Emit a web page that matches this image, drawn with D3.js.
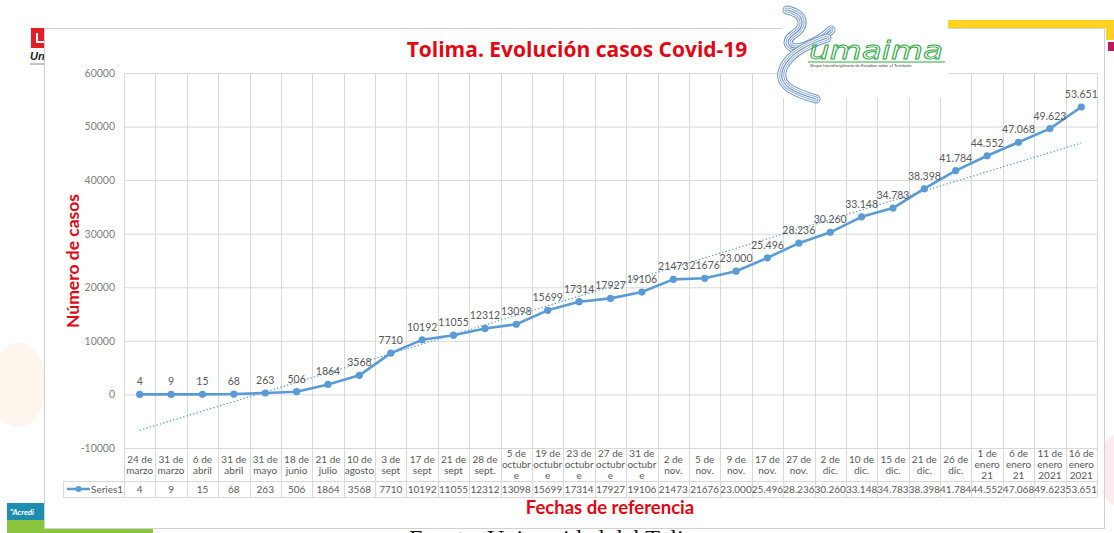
<!DOCTYPE html>
<html><head><meta charset="utf-8">
<script src="https://cdn.jsdelivr.net/npm/d3@7"></script>
<style>body{margin:0;background:#fff;overflow:hidden} svg{display:block}</style>
</head><body><svg id="c" width="1114" height="533"></svg>
<script>
const categories = ["24 de\nmarzo","31 de\nmarzo","6 de\nabril","31 de\nabril","31 de\nmayo","18 de\njunio","21 de\njulio","10 de\nagosto","3 de\nsept","17 de\nsept","21 de\nsept","28 de\nsept.","5 de\noctubr\ne","19 de\noctubr\ne","23 de\noctubr\ne","27 de\noctubr\ne","31 de\noctubr\ne","2 de\nnov.","5 de\nnov.","9 de\nnov.","17 de\nnov.","27 de\nnov.","2 de\ndic.","10 de\ndic.","15 de\ndic.","21 de\ndic.","26 de\ndic.","1 de\nenero\n21","6 de\nenero\n21","11 de\nenero\n2021","16 de\nenero\n2021"];
const cases = [4,9,15,68,263,506,1864,3568,7710,10192,11055,12312,13098,15699,17314,17927,19106,21473,21676,23000,25496,28236,30260,33148,34783,38398,41784,44552,47068,49623,53651];
const caseLabels = ["4","9","15","68","263","506","1864","3568","7710","10192","11055","12312","13098","15699","17314","17927","19106","21473","21676","23.000","25.496","28.236","30.260","33.148","34.783","38.398","41.784","44.552","47.068","49.623","53.651"];
const yTicks = [-10000,0,10000,20000,30000,40000,50000,60000];
const seriesName = "Series1";
const chartTitle = "Tolima. Evolución casos Covid-19";
const yTitle = "Número de casos";
const xTitle = "Fechas de referencia";
const sourceText = "Fuente: Universidad del Tolima";

const svg = d3.select("#c");
const FONT = "Lato, 'Open Sans', sans-serif";
const BLUE = "#5b9bd5", RED = "#e30613", GRID = "#d9d9d9", TXT = "#595959";

// ---- background decorations (slide) ----
const bg = svg.append("g");
bg.append("text").attr("x",561).attr("y",546).attr("text-anchor","middle")
  .attr("font-family","'Liberation Serif', serif").attr("font-size",24).attr("fill","#111").text(sourceText);
bg.append("rect").attr("x",7).attr("y",503).attr("width",40).attr("height",17).attr("fill","#1d8db0");
bg.append("rect").attr("x",7).attr("y",520).attr("width",146).attr("height",13).attr("fill","#8cc63e");
bg.append("text").attr("x",10).attr("y",515).attr("font-family",FONT).attr("font-size",8).attr("font-style","italic").attr("font-weight","bold").attr("fill","#fff").text("\"Acredi");
bg.append("ellipse").attr("cx",18).attr("cy",385).attr("rx",28).attr("ry",42).attr("fill","#fef5ec");
bg.append("ellipse").attr("cx",1114).attr("cy",470).attr("rx",14).attr("ry",35).attr("fill","#fcebee");
// U logo
bg.append("rect").attr("x",31).attr("y",28).attr("width",13).attr("height",20).attr("fill","#e41e26");
bg.append("path").attr("d","M37,33 V42 H44").attr("stroke","#fff").attr("stroke-width",2).attr("fill","none");
bg.append("text").attr("x",30).attr("y",60).attr("font-family","'Liberation Sans', sans-serif").attr("font-size",11).attr("font-style","italic").attr("font-weight","bold").attr("fill","#222").text("Un");
bg.append("line").attr("x1",30).attr("x2",45).attr("y1",64).attr("y2",64).attr("stroke","#888");

// ---- panel ----
svg.append("rect").attr("x",44.5).attr("y",28.5).attr("width",1060).attr("height",500)
  .attr("fill","#fff").attr("stroke","#d0d0d0");

// ---- scales ----
const plotL = 124, plotR = 1097, plotT = 73, plotB = 448;
const x = d3.scaleBand().domain(d3.range(categories.length)).range([plotL, plotR]);
const y = d3.scaleLinear().domain([-10000, 60000]).range([plotB, plotT]);
const cx = i => x(i) + x.bandwidth()/2;
const rowMid = 481, rowBot = 497, legL = 63;

const g = svg.append("g");
// horizontal gridlines
g.append("g").attr("transform",`translate(${plotL},0)`)
  .call(d3.axisLeft(y).tickValues(yTicks).tickSize(-(plotR-plotL)).tickFormat(""))
  .call(s=>s.select(".domain").remove())
  .call(s=>s.selectAll("line").attr("stroke",GRID).attr("stroke-width",1));
// y labels
g.append("g").attr("transform",`translate(${plotL},0)`)
  .call(d3.axisLeft(y).tickValues(yTicks).tickSize(0).tickPadding(9).tickFormat(d=>String(d)))
  .call(s=>s.select(".domain").remove())
  .call(s=>s.selectAll("text").attr("fill","#7f7f7f").attr("font-family",FONT).attr("font-size",10.5));
// vertical gridlines (category boundaries) extended through the data table
const bounds = d3.range(categories.length+1).map(i => i < categories.length ? x(i) : x(i-1)+x.bandwidth());
g.selectAll("line.v").data(bounds).join("line").attr("class","v")
  .attr("x1",d=>Math.round(d)+0.5).attr("x2",d=>Math.round(d)+0.5).attr("y1",plotT).attr("y2",rowBot)
  .attr("stroke",GRID);
// table lines
[rowMid, rowBot].forEach(yy => g.append("line").attr("x1",legL).attr("x2",plotR).attr("y1",yy+0.5).attr("y2",yy+0.5).attr("stroke",GRID));
g.append("line").attr("x1",legL+0.5).attr("x2",legL+0.5).attr("y1",rowMid).attr("y2",rowBot).attr("stroke",GRID);

// category labels
const lh = 11;
g.selectAll("text.cat").data(categories).join("text").attr("class","cat")
  .attr("font-family",FONT).attr("font-size",10).attr("fill",TXT).attr("text-anchor","middle")
  .each(function(d,i){
    const lines = d.split("\n");
    const y0 = 464.5 - (lines.length-1)*lh/2 + 3.5;
    d3.select(this).selectAll("tspan").data(lines).join("tspan")
      .attr("x",cx(i)).attr("y",(l,k)=>y0+k*lh).text(l=>l);
  });
// values row
g.selectAll("text.val").data(caseLabels).join("text").attr("class","val")
  .attr("x",(d,i)=>cx(i)).attr("y",492.5).attr("text-anchor","middle")
  .attr("font-family",FONT).attr("font-size",10).attr("fill",TXT).text(d=>d);
// legend in table
g.append("line").attr("x1",67).attr("x2",90).attr("y1",489).attr("y2",489).attr("stroke",BLUE).attr("stroke-width",2.5);
g.append("circle").attr("cx",78.5).attr("cy",489).attr("r",3).attr("fill",BLUE);
g.append("text").attr("x",91).attr("y",492.5).attr("font-family",FONT).attr("font-size",10).attr("fill",TXT).text(seriesName);

// linear trend line (least squares on the series)
const n = cases.length, xs = d3.range(n);
const mx = d3.mean(xs), my = d3.mean(cases);
const slope = d3.sum(xs, i => (i-mx)*(cases[i]-my)) / d3.sum(xs, i => (i-mx)**2);
const icpt = my - slope*mx;
g.append("line").attr("x1",cx(0)).attr("x2",cx(n-1)).attr("y1",y(icpt)).attr("y2",y(icpt+slope*(n-1)))
  .attr("stroke",BLUE).attr("stroke-width",1.3).attr("stroke-dasharray","1.3,2.2");

// series line
g.append("path").datum(cases)
  .attr("d", d3.line().x((d,i)=>cx(i)).y(d=>y(d)))
  .attr("fill","none").attr("stroke",BLUE).attr("stroke-width",2.6).attr("stroke-linejoin","round");
g.selectAll("circle.pt").data(cases).join("circle").attr("class","pt")
  .attr("cx",(d,i)=>cx(i)).attr("cy",d=>y(d)).attr("r",3.6).attr("fill",BLUE);
// data labels
g.selectAll("text.lbl").data(cases).join("text").attr("class","lbl")
  .attr("x",(d,i)=>cx(i)).attr("y",d=>y(d)-9).attr("text-anchor","middle")
  .attr("font-family",FONT).attr("font-size",10.5).attr("fill",TXT).text((d,i)=>caseLabels[i]);

// titles
svg.append("text").attr("x",577).attr("y",57).attr("text-anchor","middle")
  .attr("font-family","'Open Sans', Lato, sans-serif").attr("font-weight","bold").attr("font-size",21).attr("fill",RED).text(chartTitle);
svg.append("text").attr("transform","translate(79,261) rotate(-90)").attr("text-anchor","middle")
  .attr("font-family",FONT).attr("font-weight","bold").attr("font-size",17.5).attr("fill",RED).text(yTitle);
svg.append("text").attr("x",610).attr("y",514).attr("text-anchor","middle")
  .attr("font-family",FONT).attr("font-weight","bold").attr("font-size",18.5).attr("fill",RED).text(xTitle);

// ---- umaima logo ----
const logo = svg.append("g");
logo.append("rect").attr("x",782).attr("y",0).attr("width",166).attr("height",98).attr("fill","#fff");
const wave = ["M787,10 C806,14 806,27 793,35 C783,42 789,52 805,46 C816,42 825,36 831,30",
              "M827,38 C806,45 786,55 782,72 C779,86 795,93 816,99"];
wave.forEach(p => {
  [[9,"#6f94c8"],[7,"#fff"],[5,"#8aaad6"],[3,"#fff"],[1.2,"#6f94c8"]].forEach(([w,c]) =>
    logo.append("path").attr("d",p).attr("fill","none").attr("stroke",c).attr("stroke-width",w).attr("stroke-linecap","round"));
});
logo.append("text").attr("x",809).attr("y",59).attr("font-family","'DejaVu Sans', sans-serif").attr("font-style","italic")
  .attr("font-size",24).attr("fill","none").attr("stroke","#2fa844").attr("stroke-width",0.9)
  .attr("textLength",134).attr("lengthAdjust","spacingAndGlyphs").text("umaima");
logo.append("line").attr("x1",808).attr("x2",945).attr("y1",62).attr("y2",62).attr("stroke","#2fa844").attr("stroke-width",1);
logo.append("text").attr("x",810).attr("y",67).attr("font-family",FONT).attr("font-size",4.3).attr("fill","#444")
  .text("Grupo Interdisciplinario de Estudios sobre el Territorio");

// top-right slide bars
svg.append("path").attr("d","M948,20 H1114 V40 H1106 V28 H948 Z").attr("fill","#ffd21f");
svg.append("rect").attr("x",1108).attr("y",42).attr("width",6).attr("height",9).attr("fill","#c2185b");
</script></body></html>
